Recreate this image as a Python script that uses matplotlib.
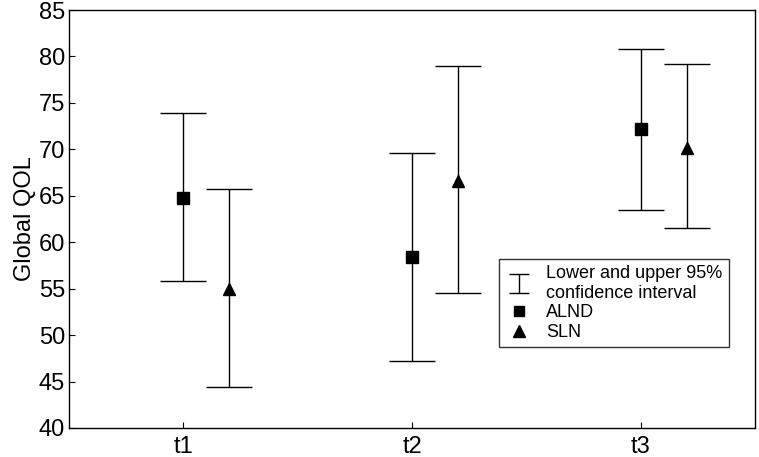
import matplotlib.pyplot as plt
from matplotlib.lines import Line2D

plt.rcParams['font.family'] = ['Liberation Sans', 'DejaVu Sans']

times = ['t1', 't2', 't3']
alnd_mean = [64.8, 58.4, 72.2]
alnd_low = [55.8, 47.2, 63.5]
alnd_high = [73.9, 69.6, 80.8]
sln_mean = [55.0, 66.6, 70.2]
sln_low = [44.4, 54.5, 61.5]
sln_high = [65.7, 79.0, 79.2]


def main():
    fig = plt.figure(figsize=(7.59, 4.57), dpi=100)
    ax = fig.add_axes([0.091, 0.0635, 0.904, 0.9145])

    x = range(1, len(times) + 1)
    off = 0.2
    xa = [i for i in x]
    xs = [i + off for i in x]

    yerr_a = [[m - l for m, l in zip(alnd_mean, alnd_low)],
              [h - m for m, h in zip(alnd_mean, alnd_high)]]
    yerr_s = [[m - l for m, l in zip(sln_mean, sln_low)],
              [h - m for m, h in zip(sln_mean, sln_high)]]

    ax.errorbar(xa, alnd_mean, yerr=yerr_a, fmt='none', ecolor='black',
                elinewidth=1, capsize=16.5, capthick=1)
    ax.errorbar(xs, sln_mean, yerr=yerr_s, fmt='none', ecolor='black',
                elinewidth=1, capsize=16.5, capthick=1)
    ax.plot(xa, alnd_mean, 's', color='black', markersize=8, zorder=3)
    ax.plot(xs, sln_mean, '^', color='black', markersize=9, zorder=3)
    # proxy for the legend with short caps (drawn outside the view)
    ci = ax.errorbar([-10], [0], yerr=[1], fmt='none', ecolor='black',
                     elinewidth=1, capsize=7, capthick=1)

    ax.set_xlim(0.5, 3.5)
    ax.set_ylim(40, 85)
    ax.set_xticks(list(x))
    ax.set_xticklabels(times)
    ax.set_yticks(range(40, 86, 5))
    ax.tick_params(direction='in', length=4, labelsize=17, width=0.8)
    ax.tick_params(axis='x', pad=6)
    ax.tick_params(axis='y', pad=3)
    ax.set_ylabel('Global QOL', fontsize=17, labelpad=2)
    for s in ax.spines.values():
        s.set_linewidth(1)

    # legend
    sq = Line2D([], [], marker='s', color='black', linestyle='none', markersize=7)
    tri = Line2D([], [], marker='^', color='black', linestyle='none', markersize=8)
    leg = ax.legend([ci, sq, tri],
                    ['Lower and upper 95%\nconfidence interval', 'ALND', 'SLN'],
                    loc='upper left', bbox_to_anchor=(0.626, 0.405),
                    fontsize=13, frameon=True, fancybox=False,
                    edgecolor='black', borderpad=0.35, handlelength=1.6,
                    handletextpad=0.7, labelspacing=0.15, borderaxespad=0)
    leg.get_frame().set_linewidth(1)

    fig.savefig('out.png', dpi=100)


if __name__ == '__main__':
    main()
